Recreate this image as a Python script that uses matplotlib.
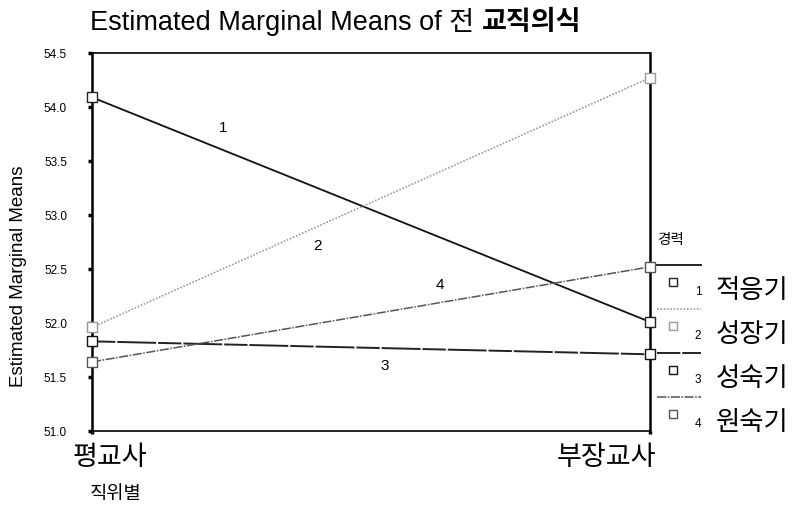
import matplotlib
matplotlib.use("Agg")
import matplotlib.pyplot as plt
from matplotlib.lines import Line2D
from matplotlib import font_manager
from matplotlib.transforms import ScaledTranslation

plt.rcParams['font.family'] = ['Liberation Sans', 'Noto Sans CJK KR', 'DejaVu Sans']

positions = ['평교사', '부장교사']
groups = ['적응기', '성장기', '성숙기', '원숙기']
group_ids = ['1', '2', '3', '4']
means = {
    '1': [54.09, 52.01],
    '2': [51.96, 54.27],
    '3': [51.83, 51.71],
    '4': [51.64, 52.52],
}
yticks = [51.0, 51.5, 52.0, 52.5, 53.0, 53.5, 54.0, 54.5]

styles = {
    '1': dict(color='#111111', ls='-', lw=1.3),
    '2': dict(color='#9a9a9a', ls=(0, (1, 1)), lw=1.2),
    '3': dict(color='#222222', ls=(0, (12, 1, 20, 1)), lw=1.4),
    '4': dict(color='#555555', ls=(0, (6, 1, 1, 1)), lw=1.1),
}
marker_colors = {'1': '#222222', '2': '#9a9a9a', '3': '#111111', '4': '#555555'}
# where the series number sits along each line (fraction of x) and pixel offset
label_at = {'1': (0.235, 16), '2': (0.405, -14), '3': (0.525, -13), '4': (0.624, 13)}

installed = {f.name for f in font_manager.fontManager.ttflist}
narrow = 'Liberation Sans Narrow' if 'Liberation Sans Narrow' in installed else 'Liberation Sans'
tick_size = 9.5 if narrow != 'Liberation Sans' else 8.5

W, H = 794, 505
fig = plt.figure(figsize=(W / 100, H / 100), dpi=100)
ax = fig.add_axes([92 / W, 1 - 431 / H, 558 / W, 378 / H])

x = list(range(len(positions)))
for gid in group_ids:
    st = styles[gid]
    ax.plot(x, means[gid], color=st['color'], linestyle=st['ls'], lw=st['lw'],
            marker='s', markersize=7, markerfacecolor='white',
            markeredgecolor=marker_colors[gid], markeredgewidth=1.0,
            clip_on=False, zorder=3)
    fx, off = label_at[gid]
    yv = means[gid][0] + (means[gid][1] - means[gid][0]) * fx
    ax.annotate(gid, (fx, yv), xytext=(0, off), textcoords='offset points',
                ha='center', va='center', fontsize=11, color='black')

ax.set_xlim(0, 1)
ax.set_ylim(51.0, 54.5)
ax.set_yticks(yticks)
ax.set_yticklabels([f'{t:.1f}' for t in yticks], fontsize=tick_size, family=narrow)
ax.set_xticks(x)
ax.set_xticklabels(positions, fontsize=19.5)
ax.tick_params(axis='y', direction='out', length=3, width=2.5, pad=15)
ax.tick_params(axis='x', direction='out', length=2, width=2.5, pad=8)

# shift the category labels sideways
shifts = [18, -44]
for lab, dx in zip(ax.get_xticklabels(), shifts):
    lab.set_transform(lab.get_transform() + ScaledTranslation(dx / 100, 0, fig.dpi_scale_trans))

for side in ['left', 'right']:
    ax.spines[side].set_linewidth(1.8)
for side in ['top', 'bottom']:
    ax.spines[side].set_linewidth(1.2)

ax.set_ylabel('Estimated Marginal Means', fontsize=13.5)
ax.yaxis.set_label_coords((27 - 92) / 558, 0.41)
fig.text(90 / W, 1 - 495 / H, '직위별', fontsize=13.5, ha='left', va='center')

# title: English part plus bold Korean part
t1 = fig.text(90 / W, 1 - 30 / H, 'Estimated Marginal Means of 전 ', fontsize=19.5,
              ha='left', va='baseline')
fig.canvas.draw()
bb = t1.get_window_extent(renderer=fig.canvas.get_renderer())
fig.text(bb.x1 / W, 1 - 30 / H, '교직의식', fontsize=19.5, fontweight='bold',
         ha='left', va='baseline')

# legend drawn in figure coordinates
fig.text(657 / W, 1 - 240 / H, '경력', fontsize=10.5, ha='left', va='center')
line_y = [265, 309, 353, 397]
for i, gid in enumerate(group_ids):
    st = styles[gid]
    ly = 1 - line_y[i] / H
    fig.add_artist(Line2D([657 / W, 701 / W], [ly, ly], color=st['color'],
                          linestyle=st['ls'], lw=st['lw']))
    my = 1 - (line_y[i] + 17) / H
    fig.add_artist(Line2D([673 / W], [my], marker='s', markersize=6,
                          markerfacecolor='white',
                          markeredgecolor=marker_colors[gid], markeredgewidth=1.0))
    fig.text(698 / W, 1 - (line_y[i] + 27) / H, gid, fontsize=8.5, ha='center', va='center')
    fig.text(716 / W, 1 - (line_y[i] + 26) / H, groups[i], fontsize=19,
             ha='left', va='center')

fig.savefig('out.png', dpi=100, facecolor='white')
